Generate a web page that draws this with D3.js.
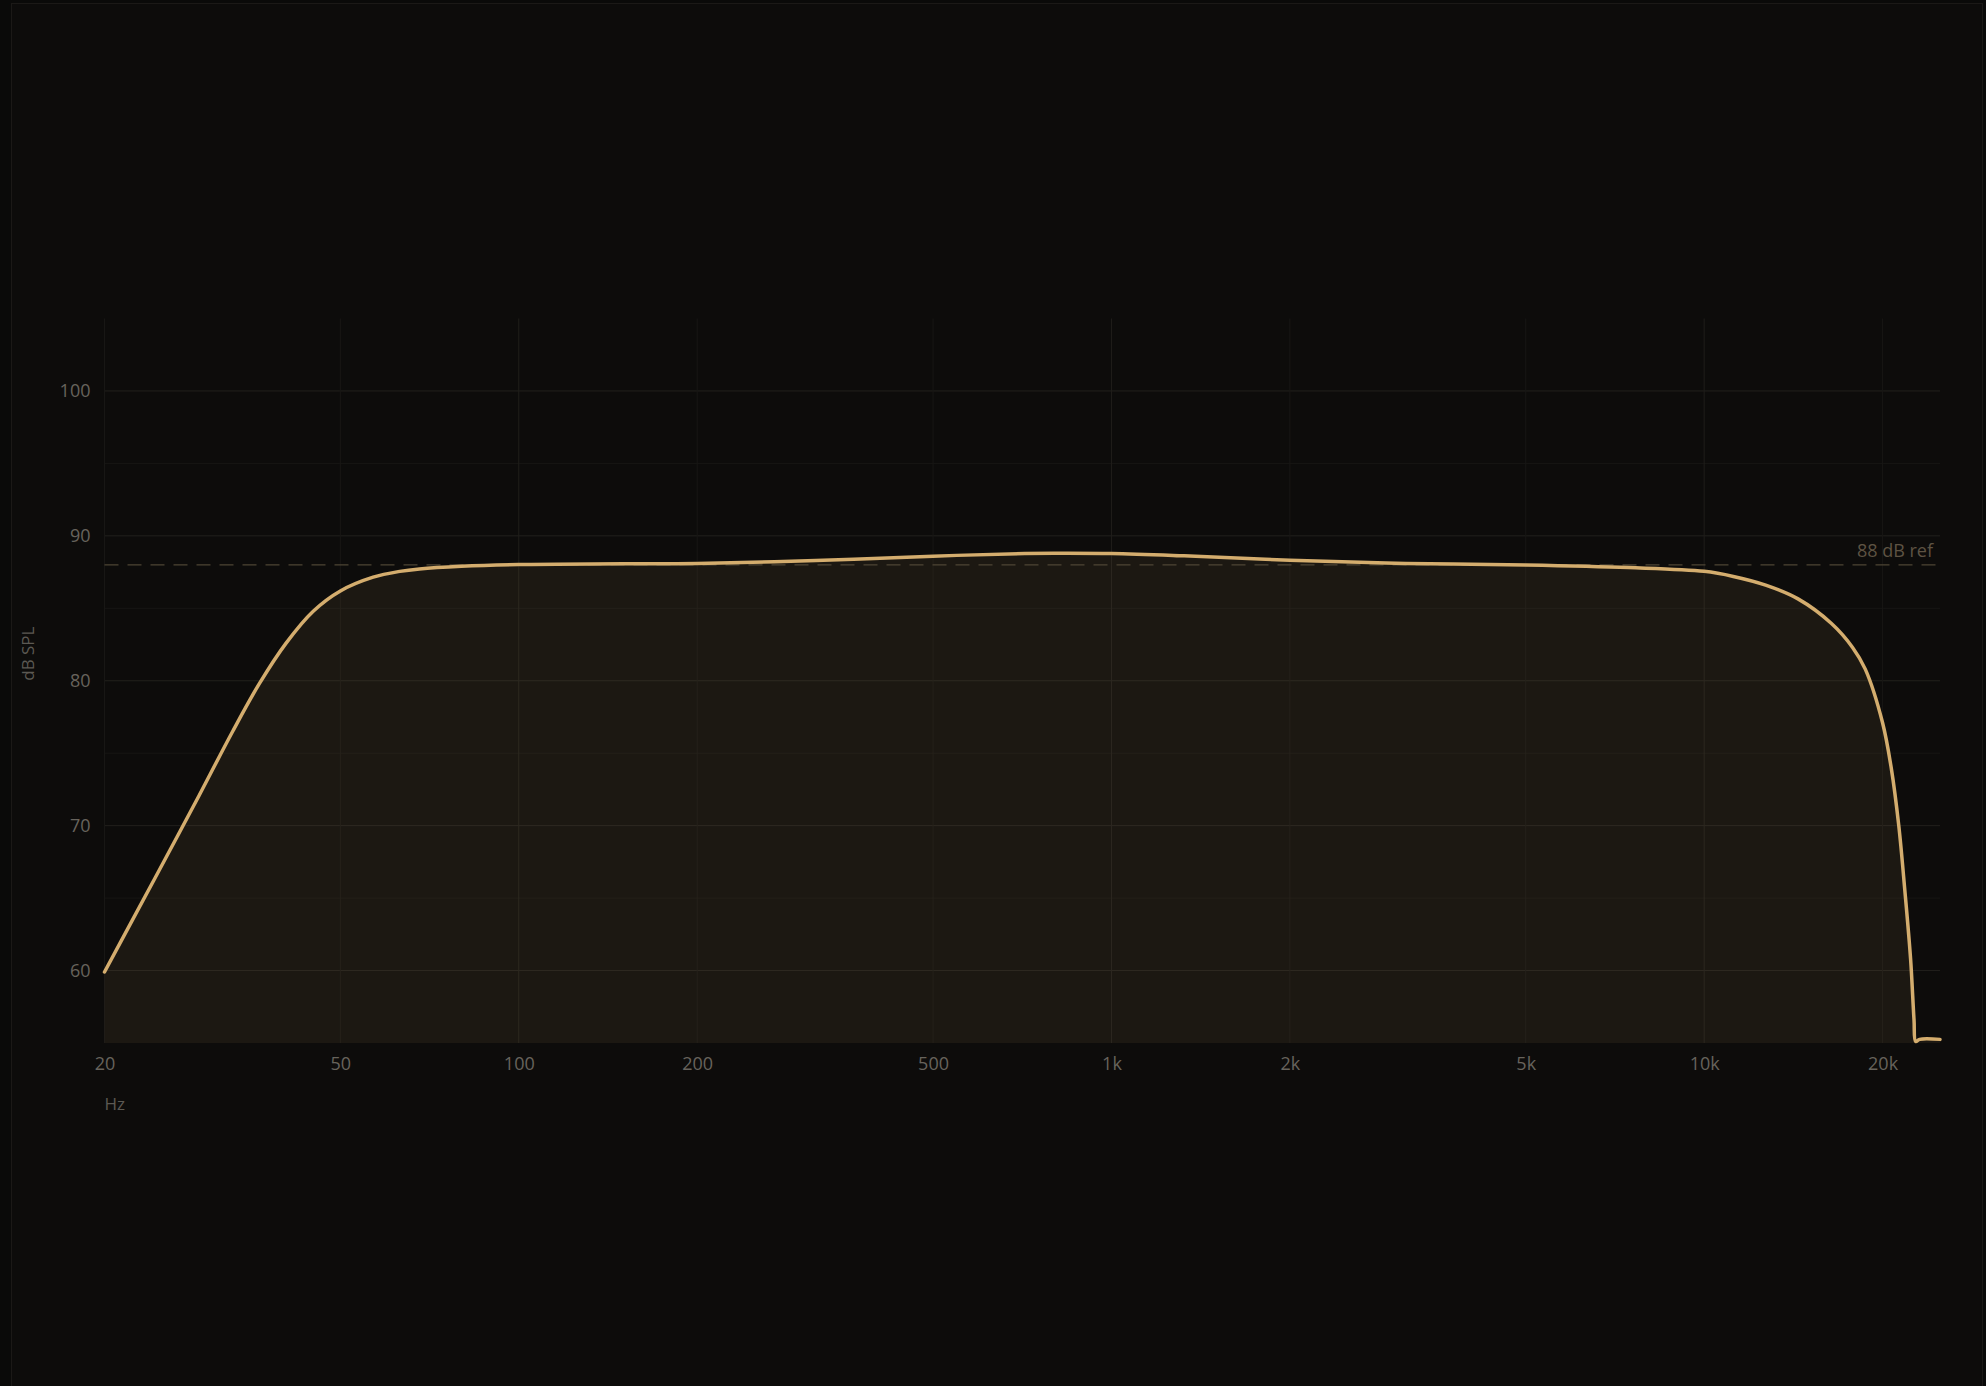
<!DOCTYPE html>
<html>
<head>
<meta charset="utf-8">
<script src="https://cdn.jsdelivr.net/npm/d3@7"></script>
<style>
  html, body { margin: 0; padding: 0; background: #0a0a09; }
  svg { display: block; }
  text { font-family: "Open Sans", "Noto Sans", sans-serif; }
</style>
</head>
<body>
<svg id="chart" width="1986" height="1386"></svg>
<script>
// ---- data ----
const freqHz = [20, 22.3, 25.4, 28.9, 32.9, 36.5, 40.5, 45, 50, 56.8, 63, 68, 80, 100, 150, 200, 317, 500, 714, 800, 1000, 1326, 2000, 3140, 5000, 7460, 10000, 11200, 12700, 14400, 16400, 17800, 18700, 20000, 20700, 21300, 21800, 22300, 22600, 22750, 23100, 25000];
const splDb = [59.9, 63.5, 67.8, 72.1, 76.5, 79.8, 82.6, 84.8, 86.2, 87.15, 87.55, 87.72, 87.9, 88.02, 88.07, 88.1, 88.3, 88.6, 88.78, 88.8, 88.78, 88.62, 88.32, 88.1, 87.99, 87.81, 87.55, 87.2, 86.6, 85.65, 83.95, 82.3, 80.8, 77.1, 73.9, 70.0, 65.6, 60.8, 56.6, 55.1, 55.25, 55.25];
const xTickValues = [20, 50, 100, 200, 500, 1000, 2000, 5000, 10000, 20000];
const xTickLabels = ["20", "50", "100", "200", "500", "1k", "2k", "5k", "10k", "20k"];
const xMajorTicks = [100, 1000, 10000];
const yTickValues = [60, 70, 80, 90, 100];
const yMinorTicks = [65, 75, 85, 95];
const refLevel = 88;
const refLabel = "88 dB ref";
const yAxisTitle = "dB SPL";
const xAxisTitle = "Hz";

// ---- layout ----
const plot = { left: 104.5, right: 1940, top: 318.5, bottom: 1043 };

const svg = d3.select("#chart");

// card
svg.append("rect")
  .attr("x", 11.5).attr("y", 3.5)
  .attr("width", 1971).attr("height", 1420)
  .attr("fill", "#0d0c0b")
  .attr("stroke", "#1b1917").attr("stroke-width", 1);

svg.append("defs").append("clipPath").attr("id", "plotclip")
  .append("rect")
  .attr("x", plot.left - 4).attr("y", plot.top)
  .attr("width", plot.right - plot.left + 8).attr("height", plot.bottom - plot.top + 2);

const x = d3.scaleLog().domain([20, 25000]).range([plot.left, plot.right]);
const y = d3.scaleLinear().domain([55, 105]).range([plot.bottom, plot.top]);

const data = freqHz.map((f, i) => ({ f, v: splDb[i] }));

// grid
const grid = svg.append("g");
grid.selectAll("line.ym")
  .data(yMinorTicks).join("line")
  .attr("x1", plot.left).attr("x2", plot.right)
  .attr("y1", d => y(d)).attr("y2", d => y(d))
  .attr("stroke", "#171614").attr("stroke-width", 1);
grid.selectAll("line.yM")
  .data(yTickValues).join("line")
  .attr("x1", plot.left).attr("x2", plot.right)
  .attr("y1", d => y(d)).attr("y2", d => y(d))
  .attr("stroke", "#22201d").attr("stroke-width", 1);
grid.selectAll("line.xg")
  .data(xTickValues).join("line")
  .attr("x1", d => x(d)).attr("x2", d => x(d))
  .attr("y1", plot.top).attr("y2", plot.bottom)
  .attr("stroke", d => xMajorTicks.includes(d) ? "#201e1b" : "#181715")
  .attr("stroke-width", 1);

const curve = d3.curveCatmullRom.alpha(0.5);

// area fill
const area = d3.area()
  .x(d => x(d.f))
  .y0(plot.bottom)
  .y1(d => y(d.v))
  .curve(curve);
svg.append("path")
  .datum(data)
  .attr("d", area)
  .attr("clip-path", "url(#plotclip)")
  .attr("fill", "#d4ad6e")
  .attr("fill-opacity", 0.075);

// reference dashed line
svg.append("line")
  .attr("x1", plot.left).attr("x2", plot.right)
  .attr("y1", y(refLevel)).attr("y2", y(refLevel))
  .attr("stroke", "#4d4434").attr("stroke-width", 1.2)
  .attr("stroke-dasharray", "14 9");
svg.append("text")
  .attr("x", plot.right - 7).attr("y", y(refLevel) - 8)
  .attr("text-anchor", "end")
  .attr("font-size", 18)
  .attr("fill", "#5e5343")
  .text(refLabel);

// curve
const line = d3.line()
  .x(d => x(d.f))
  .y(d => y(d.v))
  .curve(curve);
svg.append("path")
  .datum(data)
  .attr("d", line)
  .attr("clip-path", "url(#plotclip)")
  .attr("fill", "none")
  .attr("stroke", "#d4ad6e")
  .attr("stroke-width", 3.5)
  .attr("stroke-linejoin", "round")
  .attr("stroke-linecap", "round");

// y axis labels
const yAxis = d3.axisLeft(y).tickValues(yTickValues).tickSize(0).tickPadding(14);
const gy = svg.append("g").attr("transform", `translate(${plot.left},0)`).call(yAxis);
gy.select(".domain").remove();
gy.selectAll("text")
  .attr("font-size", 18)
  .attr("font-family", "\"Open Sans\", sans-serif")
  .attr("fill", "#67635c");

// x axis labels
const xAxis = d3.axisBottom(x).tickValues(xTickValues)
  .tickFormat((d, i) => xTickLabels[i]).tickSize(0).tickPadding(14);
const gx = svg.append("g").attr("transform", `translate(0,${plot.bottom})`).call(xAxis);
gx.select(".domain").remove();
gx.selectAll("text")
  .attr("font-size", 18)
  .attr("font-family", "\"Open Sans\", sans-serif")
  .attr("fill", "#67635c");

// axis titles
svg.append("text")
  .attr("x", plot.left).attr("y", 1110)
  .attr("font-size", 17)
  .attr("fill", "#5c5953")
  .text(xAxisTitle);
svg.append("text")
  .attr("transform", `translate(34,${(plot.top + plot.bottom) / 2}) rotate(-90)`)
  .attr("text-anchor", "start")
  .attr("font-size", 17)
  .attr("fill", "#5c5953")
  .text(yAxisTitle);
</script>
</body>
</html>
